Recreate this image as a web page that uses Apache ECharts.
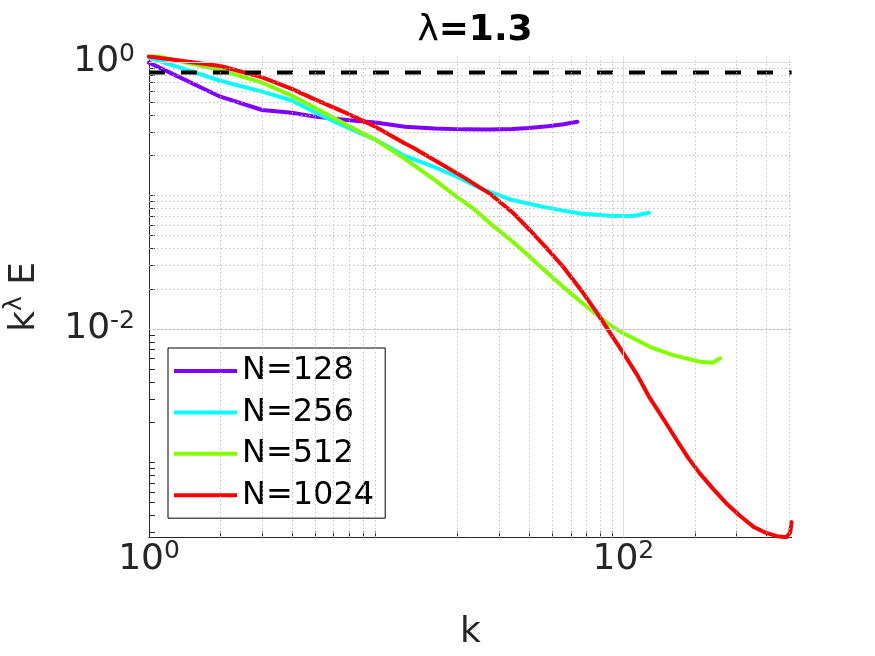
<!DOCTYPE html>
<html><head><meta charset="utf-8">
<script src="https://cdn.jsdelivr.net/npm/echarts@6/dist/echarts.min.js"></script>
<style>html,body{margin:0;padding:0;background:#fff}#c{width:875px;height:656px}</style>
</head><body><div id="c"></div>
<script>
// ---- data ----
const seriesNames = ['N=128', 'N=256', 'N=512', 'N=1024'];
const k128 = [1, 2, 3, 4, 5, 7, 9, 12, 16, 21, 27, 34, 40, 48, 56, 64];
const e128 = [0.99, 0.55, 0.437, 0.417, 0.39, 0.366, 0.352, 0.328, 0.318, 0.313, 0.312, 0.315, 0.32, 0.33, 0.342, 0.357];
const k256 = [1, 2, 3, 4, 5, 7, 9, 12, 16, 20, 25, 34, 47, 65, 90, 110, 128];
const e256 = [1.08, 0.724, 0.6, 0.515, 0.42, 0.318, 0.262, 0.198, 0.163, 0.138, 0.113, 0.0925, 0.0815, 0.0735, 0.0702, 0.0702, 0.0743];
const k512 = [1, 2, 3, 4, 5, 7, 9, 12, 16, 19.8, 23.3, 27.4, 34, 40.3, 48, 55.7, 66, 77.7, 88, 100, 115, 129, 162, 210, 238, 256];
const e512 = [1.14, 0.871, 0.7, 0.56, 0.455, 0.33, 0.262, 0.188, 0.131, 0.098, 0.08, 0.0619, 0.0455, 0.0348, 0.0262, 0.0207, 0.0161, 0.0127, 0.0107, 0.0093, 0.0082, 0.00736, 0.00638, 0.00569, 0.0056, 0.00604];
const k1024 = [1, 2, 3, 4, 5, 7, 9, 12, 13, 16.9, 21.1, 27.4, 34, 40.3, 48, 55.7, 66, 77.7, 90.6, 100, 115, 129, 148, 168, 188, 210, 240, 272, 310, 354, 400, 444, 488, 505, 512];
const e1024 = [1.10, 0.933, 0.768, 0.63, 0.525, 0.405, 0.328, 0.245, 0.228, 0.174, 0.138, 0.103, 0.075, 0.0552, 0.0395, 0.0293, 0.0198, 0.0131, 0.00862, 0.0066, 0.00446, 0.00306, 0.0021, 0.00147, 0.00108, 0.00083, 0.00063, 0.000494, 0.0004, 0.00033, 0.000297, 0.000281, 0.000276, 0.0003, 0.000358];
const refK = [1, 512];
const refE = [0.834, 0.834];
const titleLambda = '1.3';
const xTickValues = [1, 100];
const yTickValues = [0.01, 1];
const xMinorValues = [2,3,4,5,6,7,8,9,20,30,40,50,60,70,80,90,200,300,400,500];
const yMinorValues = [0.0003,0.0004,0.0005,0.0006,0.0007,0.0008,0.0009,
  0.001,0.002,0.003,0.004,0.005,0.006,0.007,0.008,0.009,
  0.02,0.03,0.04,0.05,0.06,0.07,0.08,0.09,
  0.1,0.2,0.3,0.4,0.5,0.6,0.7,0.8,0.9];
const colors = ['#8000ff', '#00ffff', '#80ff00', '#ff0000'];

// ---- build ----
const zip = (a, b) => a.map((x, i) => [x, b[i]]);
const dataSets = [zip(k128, e128), zip(k256, e256), zip(k512, e512), zip(k1024, e1024)];
const FONT = 'DejaVu Sans';
const TXT = '#262626';
const supFmt = v => '10{s|' + Math.round(Math.log10(v)) + '}';
const labelRich = {
  s: { fontSize: 25, fontFamily: FONT, color: TXT, padding: [0, 0, 16, 0], verticalAlign: 'bottom' }
};

const chart = echarts.init(document.getElementById('c'), null, { renderer: 'canvas' });
const series = dataSets.map((d, i) => ({
  name: seriesNames[i], type: 'line', data: d, symbol: 'none', showSymbol: false,
  lineStyle: { color: colors[i], width: 4, join: 'round', cap: 'round' }, itemStyle: { color: colors[i] },
  z: 3, clip: true, animation: false
}));
series.unshift({
  name: 'gridMinor', type: 'line', data: [], z: 1, silent: true, animation: false,
  markLine: {
    silent: true, symbol: ['none', 'none'], label: { show: false }, animation: false,
    lineStyle: { color: '#bcbcbc', width: 1, type: [1.3, 2.7] },
    data: xMinorValues.map(v => ({ xAxis: v })).concat(yMinorValues.map(v => ({ yAxis: v })))
  }
});
series.unshift({
  name: 'gridMajor', type: 'line', data: [], z: 1, silent: true, animation: false,
  markLine: {
    silent: true, symbol: ['none', 'none'], label: { show: false }, animation: false,
    lineStyle: { color: '#dcdcdc', width: 1, type: 'solid' },
    data: [{ xAxis: 100 }].concat(yTickValues.map(v => ({ yAxis: v })))
  }
});
series.push({
  name: 'ref', type: 'line', data: zip(refK, refE), symbol: 'none', z: 4, animation: false,
  lineStyle: { color: '#000', width: 4, type: [16, 16] }
});

chart.setOption({
  animation: false,
  backgroundColor: '#fff',
  title: {
    text: '{l|λ}{b|=' + titleLambda + '}', left: 470, top: 8, textAlign: 'center',
    textStyle: { rich: {
      l: { fontFamily: FONT, fontSize: 36, fontWeight: 'normal', color: '#000' },
      b: { fontFamily: FONT, fontSize: 36, fontWeight: 'bold', color: '#000' }
    } }
  },
  grid: { left: 149, right: 83.4, top: 56.5, bottom: 118.6, containLabel: false, outerBoundsMode: 'none' },
  legend: {
    data: seriesNames.map(n => ({ name: n, icon: 'rect' })), orient: 'vertical', left: 168, top: 348,
    backgroundColor: '#fff', borderColor: '#000', borderWidth: 1,
    padding: [5, 11, 5, 6], itemWidth: 63, itemHeight: 4, itemGap: 5.4,
    textStyle: { fontFamily: FONT, fontSize: 32, color: '#000', lineHeight: 36 }
  },
  xAxis: {
    type: 'log', logBase: 10, min: 1, max: 512,
    name: 'k', nameLocation: 'middle', nameGap: 77,
    nameTextStyle: { fontFamily: FONT, fontSize: 36, color: TXT },
    axisLine: { show: true, lineStyle: { color: TXT, width: 1 } },
    axisTick: { show: true, inside: true, length: 6, lineStyle: { color: TXT },
      customValues: xTickValues.concat(xMinorValues) },
    minorTick: { show: false },
    splitLine: { show: false },
    axisLabel: { show: true, customValues: xTickValues, margin: 2, formatter: supFmt,
      fontFamily: FONT, fontSize: 36, color: TXT, verticalAlign: 'top', rich: labelRich }
  },
  yAxis: {
    type: 'log', logBase: 10, min: 0.000275, max: 1.1,
    name: '{a|k}{s|λ}{a| E}', nameLocation: 'middle', nameGap: 106, nameRotate: 90,
    nameTextStyle: { fontFamily: FONT, fontSize: 36, color: TXT, rich: {
      a: { fontFamily: FONT, fontSize: 36, color: TXT, verticalAlign: 'bottom' },
      s: { fontFamily: FONT, fontSize: 25, color: TXT, padding: [0, 0, 16, 0], verticalAlign: 'bottom' }
    } },
    axisLine: { show: true, lineStyle: { color: TXT, width: 1 } },
    axisTick: { show: true, inside: true, length: 6, lineStyle: { color: TXT },
      customValues: yTickValues.concat(yMinorValues) },
    minorTick: { show: false },
    splitLine: { show: false },
    axisLabel: { show: true, customValues: yTickValues, margin: 14, formatter: supFmt,
      fontFamily: FONT, fontSize: 36, color: TXT, rich: labelRich }
  },
  series: series
});
</script></body></html>
